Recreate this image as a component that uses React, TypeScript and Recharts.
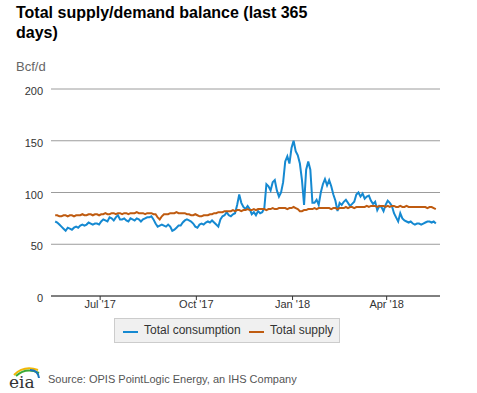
import React from "react";
import { LineChart, Line, XAxis, YAxis, CartesianGrid } from "recharts";

// one reading every 2 days, starting May 19 2017 (day 0)
const consumption = [
  72, 71, 69, 67, 65, 63, 66, 65, 64, 66,
  67, 66, 68, 69, 68, 69, 71, 70, 69, 70,
  70, 69, 72, 74, 73, 72, 76, 75, 73, 76,
  78, 74, 74, 75, 73, 72, 75, 74, 73, 75,
  74, 72, 74, 75, 76, 76, 77, 74, 70, 67,
  68, 69, 68, 67, 69, 67, 63, 64, 66, 68,
  68, 71, 73, 74, 73, 72, 70, 67, 66, 69,
  70, 69, 71, 72, 71, 73, 71, 69, 67, 74,
  77, 78, 81, 78, 77, 79, 80, 88, 98, 90,
  86, 84, 87, 84, 79, 81, 78, 82, 80, 81,
  85, 108, 106, 102, 110, 112, 102, 96, 100, 110,
  130, 135, 128, 143, 150, 140, 136, 128, 112, 88,
  122, 130, 122, 90, 90, 93, 88, 100, 108, 113,
  107, 112, 106, 98, 92, 82, 90, 88, 91, 93,
  90, 87, 89, 91, 98, 100, 96, 99, 94, 96,
  97, 92, 89, 91, 83, 87, 86, 82, 88, 92,
  90, 87, 80, 76, 72, 80, 75, 73, 72, 71,
  72, 70, 69, 70, 70, 69, 70, 71, 72, 72,
  71, 72, 70,
];

const supply = [
  78, 78, 77, 77, 78, 78, 77, 78, 78, 77, 78,
  78, 78, 79, 78, 78, 79, 79, 78, 79, 79, 78,
  79, 79, 80, 79, 79, 80, 80, 79, 80, 80, 79,
  80, 80, 79, 80, 80, 80, 81, 80, 80, 80, 79, 80, 80,
  80, 79, 79, 76, 74, 77, 79,
  79, 79, 80, 80, 80, 81, 80, 80, 80, 80,
  79, 79, 78, 78, 79, 78, 77, 77, 78, 78,
  78, 79, 79, 80, 80, 81, 81, 81, 82, 82,
  82, 82, 83, 82, 83, 83, 82, 83, 83, 84,
  83, 83, 84, 83, 84, 84, 84, 84, 83, 84, 84, 85, 84,
  84, 85, 85, 85, 85, 84, 85, 85, 86, 85, 84, 82, 82,
  83, 83, 84, 84, 84, 85, 84, 85, 85, 85, 85, 85,
  85, 84, 85, 85, 84, 85, 85, 85, 86, 85, 86, 86, 85, 86, 86,
  86, 86, 86, 87, 86, 87, 87, 87, 86, 87, 87, 87, 86, 87, 86,
  87, 87, 86, 86, 87, 86, 86, 87, 86, 86, 86, 86,
  86, 86, 86, 86, 86, 85, 86, 86, 85, 84,
];

// Jul 1, Oct 1, Jan 1, Apr 1 as days after May 19 2017
const tickDays = [43, 135, 227, 317];
const tickLabels = ["Jul '17", "Oct '17", "Jan '18", "Apr '18"];
const yTicks = [0, 50, 100, 150, 200];

const BLUE = "#1589d1";
const ORANGE = "#bf5b10";
const FONT = "Arial, 'Liberation Sans', sans-serif";

const data = consumption.map((c, i) => ({ day: i * 2, consumption: c, supply: supply[i] }));

function YTick(props: any) {
  const { x, y, payload } = props;
  return (
    <text x={x} y={y + 6} textAnchor="end" fontSize={11} fill="#333" fontFamily={FONT}>
      {payload.value}
    </text>
  );
}

function XTick(props: any) {
  const { x, y, payload } = props;
  const idx = tickDays.indexOf(payload.value);
  return (
    <text x={x} y={y + 8} textAnchor="middle" fontSize={11} fill="#333" fontFamily={FONT}>
      {tickLabels[idx]}
    </text>
  );
}

function EiaLogo() {
  return (
    <svg width={40} height={30} style={{ position: "absolute", left: 6, top: 362, overflow: "visible" }}>
      <path d="M8 13 Q18 3 32 8" stroke="#f2b705" strokeWidth={2} fill="none" />
      <path d="M10 14 Q20 5 33 11" stroke="#3aa935" strokeWidth={2} fill="none" />
      <path d="M24 8 Q32 8 33 16" stroke="#1b75bb" strokeWidth={2} fill="none" />
      <text x={3} y={26} fontSize={17} fontFamily="'DejaVu Serif', 'Liberation Serif', serif" fill="#333">
        eia
      </text>
    </svg>
  );
}

export default function App() {
  return (
    <div
      style={{
        position: "absolute",
        left: 0,
        top: 0,
        width: 477,
        height: 393,
        background: "#fff",
        fontFamily: FONT,
        overflow: "hidden",
      }}
    >
      <div
        style={{
          position: "absolute",
          left: 16,
          top: 3,
          width: 300,
          fontSize: 16,
          fontWeight: "bold",
          lineHeight: "20px",
          color: "#000",
        }}
      >
        Total supply/demand balance (last 365 days)
      </div>
      <div style={{ position: "absolute", left: 16, top: 59, fontSize: 13, color: "#666" }}>Bcf/d</div>

      <div style={{ position: "absolute", left: 0, top: 0 }}>
        <LineChart width={477} height={393} data={data} margin={{ top: 89, right: 37, left: 11, bottom: 67 }}>
          <CartesianGrid vertical={false} stroke="#9c9c9c" />
          <XAxis
            dataKey="day"
            type="number"
            domain={[-4, 368]}
            ticks={tickDays}
            tick={<XTick />}
            height={30}
            tickSize={4}
            tickMargin={0}
            axisLine={{ stroke: "#333" }}
            tickLine={{ stroke: "#333" }}
          />
          <YAxis
            domain={[0, 200]}
            ticks={yTicks}
            width={40}
            axisLine={false}
            tickLine={false}
            tick={<YTick />}
          />
          <Line
            dataKey="consumption"
            stroke={BLUE}
            strokeWidth={2}
            dot={false}
            isAnimationActive={false}
          />
          <Line dataKey="supply" stroke={ORANGE} strokeWidth={2} dot={false} isAnimationActive={false} />
        </LineChart>
      </div>

      <div
        style={{
          position: "absolute",
          left: 114,
          top: 318,
          width: 224,
          height: 23,
          background: "#f0f0f0",
          border: "1px solid #ccc",
          fontSize: 12,
          color: "#333",
        }}
      >
        <div style={{ position: "absolute", left: 8, top: 12, width: 15, height: 2, background: BLUE }} />
        <div style={{ position: "absolute", left: 29, top: 4, whiteSpace: "nowrap" }}>Total consumption</div>
        <div style={{ position: "absolute", left: 134, top: 12, width: 15, height: 2, background: ORANGE }} />
        <div style={{ position: "absolute", left: 155, top: 4, whiteSpace: "nowrap" }}>Total supply</div>
      </div>

      <EiaLogo />
      <div style={{ position: "absolute", left: 48, top: 373, fontSize: 11, color: "#555", whiteSpace: "nowrap" }}>
        Source: OPIS PointLogic Energy, an IHS Company
      </div>
    </div>
  );
}
